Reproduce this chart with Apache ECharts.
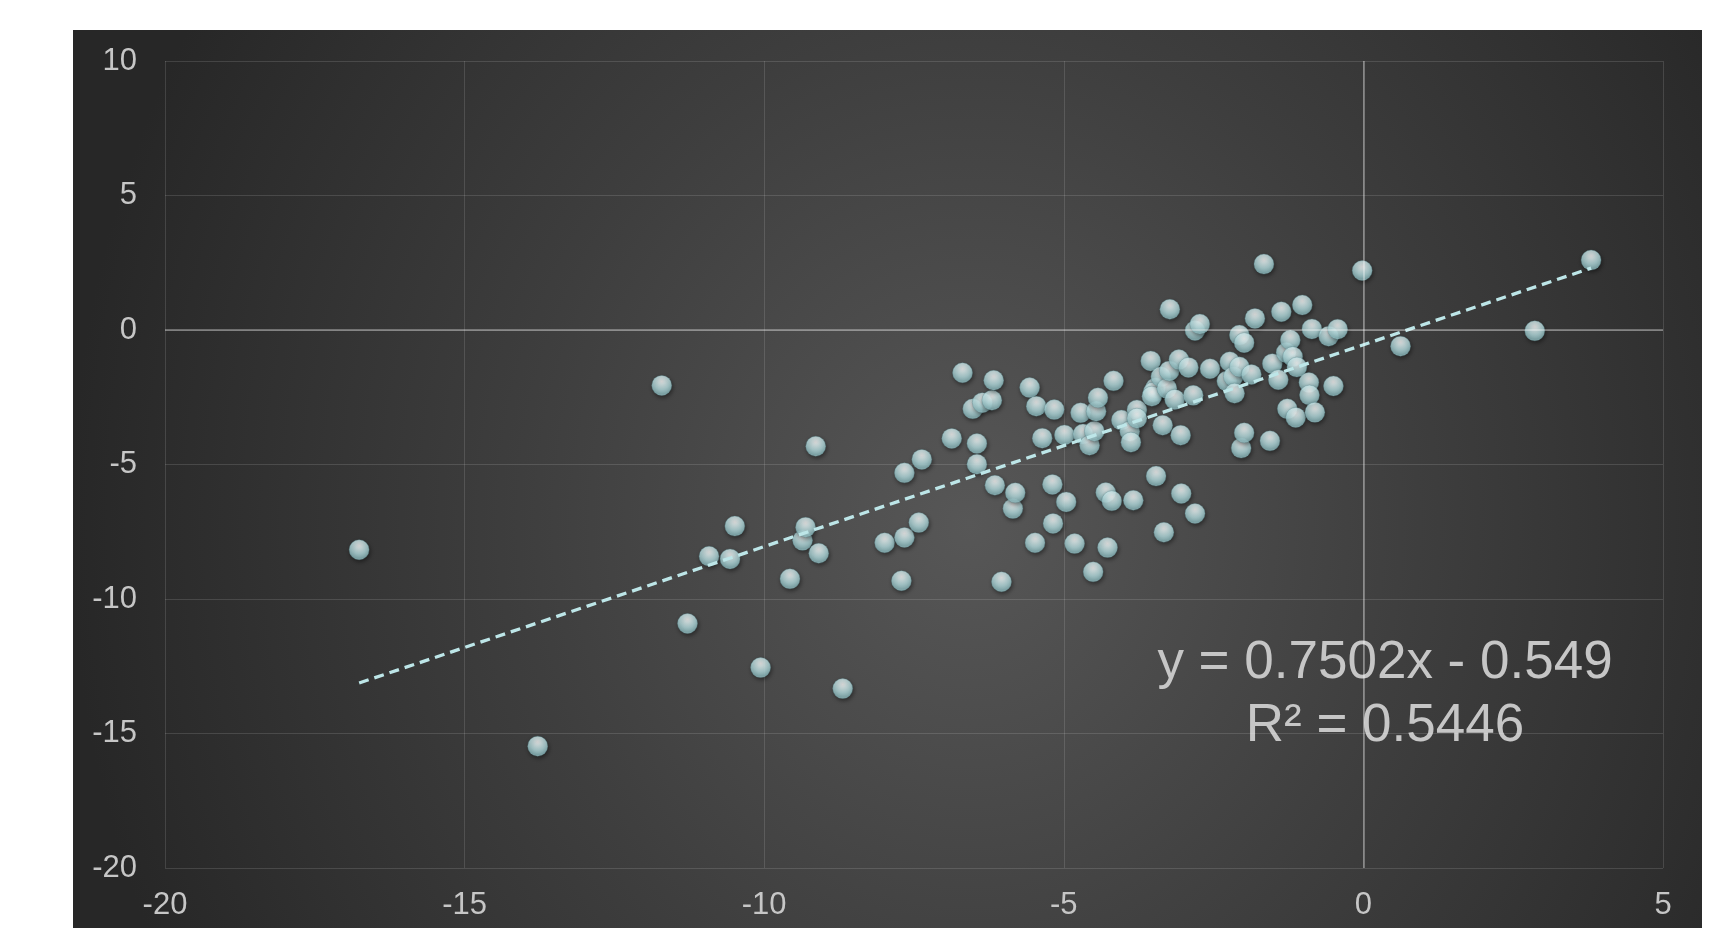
<!DOCTYPE html>
<html>
<head>
<meta charset="utf-8">
<script src="https://cdn.jsdelivr.net/npm/echarts@6/dist/echarts.min.js"></script>
<style>
  html, body { margin: 0; padding: 0; background: #ffffff; width: 1733px; height: 928px; overflow: hidden; }
  #chart {
    position: absolute; left: 73px; top: 30px; width: 1629px; height: 898px;
    background: radial-gradient(ellipse 900px 1000px at 55% 55%, #575757 0%, #3e3e3e 50%, #272727 100%);
  }
</style>
</head>
<body>
<div id="chart"></div>
<script>
// Observations: x and y values of each point
const xValues = [
  -16.76, -13.78, -11.71, -11.28, -10.92, -10.57, -10.49, -10.06, -9.57, -9.36,
  -9.31, -9.14, -9.09, -8.69, -7.99, -7.71, -7.66, -7.66, -7.42, -7.37,
  -6.87, -6.69, -6.52, -6.45, -6.45, -6.36, -6.20, -6.17, -6.15, -6.04,
  -5.85, -5.81, -5.57, -5.48, -5.46, -5.36, -5.19, -5.18, -5.16, -4.99,
  -4.96, -4.82, -4.72, -4.68, -4.57, -4.51, -4.49, -4.46, -4.43, -4.30,
  -4.27, -4.20, -4.17, -4.04, -3.90, -3.88, -3.84, -3.78, -3.78, -3.55,
  -3.47, -3.51, -3.53, -3.46, -3.38, -3.35, -3.33, -3.28, -3.24, -3.23,
  -3.15, -3.08, -3.05, -3.04, -2.92, -2.84, -2.81, -2.81, -2.73, -2.56,
  -2.28, -2.23, -2.17, -2.15, -2.07, -2.07, -2.04, -1.99, -1.99, -1.87,
  -1.81, -1.66, -1.56, -1.52, -1.42, -1.37, -1.29, -1.27, -1.22, -1.18,
  -1.13, -1.11, -1.02, -0.91, -0.90, -0.86, -0.81, -0.58, -0.50, -0.43,
  -0.02, 0.62, 2.86, 3.80
];
const yValues = [
  -8.17, -15.47, -2.06, -10.91, -8.41, -8.51, -7.29, -12.55, -9.25, -7.82,
  -7.33, -4.32, -8.30, -13.33, -7.91, -9.32, -5.31, -7.71, -7.16, -4.81,
  -4.03, -1.59, -2.93, -4.22, -4.99, -2.70, -2.61, -1.87, -5.77, -9.36,
  -6.64, -6.05, -2.14, -7.91, -2.83, -4.02, -5.74, -7.19, -2.96, -3.90,
  -6.39, -7.94, -3.08, -3.87, -4.28, -8.99, -3.76, -3.02, -2.52, -6.04,
  -8.09, -6.35, -1.89, -3.35, -3.76, -4.17, -6.33, -2.97, -3.28, -1.15,
  -2.15, -2.31, -2.46, -5.43, -1.74, -3.54, -7.52, -2.17, -1.52, 0.77,
  -2.58, -1.10, -3.91, -6.08, -1.39, -2.43, -6.82, -0.02, 0.22, -1.44,
  -1.90, -1.18, -1.73, -2.35, -1.37, -0.19, -4.39, -3.82, -0.47, -1.65,
  0.43, 2.45, -4.12, -1.25, -1.85, 0.68, -0.84, -2.93, -0.37, -0.99,
  -3.25, -1.38, 0.93, -1.95, -2.42, 0.04, -3.06, -0.23, -2.08, 0.03,
  2.21, -0.60, -0.03, 2.60
];

// Axis ticks
const xTicks = [-20, -15, -10, -5, 0, 5];
const yTicks = [-20, -15, -10, -5, 0, 5, 10];

// Linear trend line stated on the chart
const trendSlope = 0.7502;
const trendIntercept = -0.549;
const trendR2 = 0.5446;

const points = xValues.map((x, i) => [x, yValues[i]]);
const xMin = Math.min(...xValues);
const xMax = Math.max(...xValues);
const trendPoints = [
  [xMin, trendSlope * xMin + trendIntercept],
  [xMax, trendSlope * xMax + trendIntercept]
];

const labelFont = "'Liberation Sans', Arial, sans-serif";
const sign = trendIntercept < 0 ? ' - ' : ' + ';
const eqText = 'y = ' + trendSlope.toFixed(4) + 'x' + sign + Math.abs(trendIntercept).toFixed(3);
const r2Text = 'R\u00B2 = ' + trendR2.toFixed(4);

const chart = echarts.init(document.getElementById('chart'), null, { renderer: 'canvas' });

// glossy sphere fill for the markers
const sphere = new echarts.graphic.RadialGradient(0.5, 0.3, 0.72, [
  { offset: 0, color: '#ffffff' },
  { offset: 0.2, color: '#e9fbfc' },
  { offset: 0.55, color: '#bbe3e6' },
  { offset: 0.85, color: '#91c0c4' },
  { offset: 1, color: '#b5dee1' }
]);

chart.setOption({
  backgroundColor: 'transparent',
  animation: false,
  grid: { left: 92, right: 39, top: 31, bottom: 60, containLabel: false },
  xAxis: {
    type: 'value',
    min: xTicks[0],
    max: xTicks[xTicks.length - 1],
    interval: 5,
    axisLine: { show: false },
    axisTick: { show: false },
    splitLine: { show: true, lineStyle: { color: 'rgba(255,255,255,0.13)', width: 1 } },
    axisLabel: { color: '#c6c6c6', fontSize: 31, fontFamily: labelFont, margin: 22 }
  },
  yAxis: {
    type: 'value',
    min: yTicks[0],
    max: yTicks[yTicks.length - 1],
    interval: 5,
    axisLine: { show: false },
    axisTick: { show: false },
    splitLine: { show: true, lineStyle: { color: 'rgba(255,255,255,0.13)', width: 1 } },
    axisLabel: { color: '#c6c6c6', fontSize: 31, fontFamily: labelFont, margin: 28 }
  },
  series: [
    {
      // zero axes drawn across the plot
      type: 'scatter',
      data: [],
      z: 1,
      silent: true,
      markLine: {
        silent: true,
        symbol: 'none',
        label: { show: false },
        lineStyle: { color: 'rgba(255,255,255,0.42)', width: 1.5, type: 'solid' },
        data: [{ xAxis: 0 }, { yAxis: 0 }]
      }
    },
    {
      type: 'scatter',
      data: points,
      z: 2,
      symbol: 'circle',
      symbolSize: 20,
      itemStyle: {
        color: sphere,
        borderColor: 'rgba(90,135,140,0.7)',
        borderWidth: 0.6,
        shadowColor: 'rgba(0,0,0,0.55)',
        shadowBlur: 4,
        shadowOffsetX: 1,
        shadowOffsetY: 2
      }
    },
    {
      type: 'line',
      data: trendPoints,
      z: 3,
      silent: true,
      symbol: 'none',
      lineStyle: { color: '#bde6e8', width: 3.3, type: [10, 6] }
    }
  ],
  graphic: [
    {
      type: 'text',
      x: 1312,
      y: 633,
      silent: true,
      style: {
        text: eqText,
        fill: '#c6c6c6',
        font: "53px 'Liberation Sans', Arial, sans-serif",
        align: 'center',
        verticalAlign: 'middle'
      }
    },
    {
      type: 'text',
      x: 1312,
      y: 696,
      silent: true,
      style: {
        text: r2Text,
        fill: '#c6c6c6',
        font: "53px 'Liberation Sans', Arial, sans-serif",
        align: 'center',
        verticalAlign: 'middle'
      }
    }
  ]
});
</script>
</body>
</html>
